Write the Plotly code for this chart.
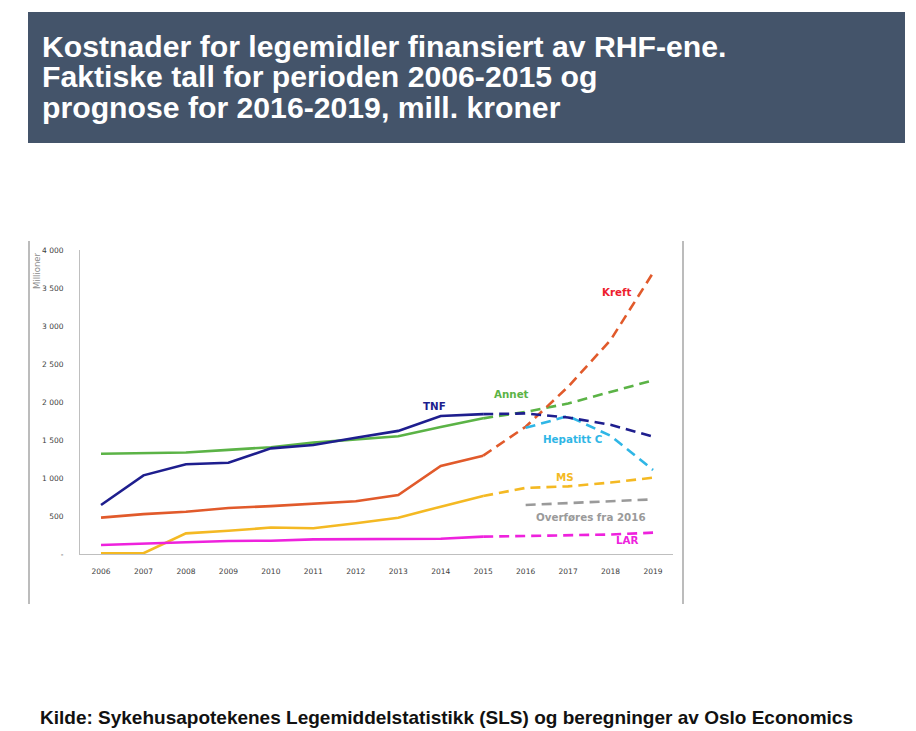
import plotly.graph_objects as go

years_hist = [2006, 2007, 2008, 2009, 2010, 2011, 2012, 2013, 2014, 2015]
years_prog = [2015, 2016, 2017, 2018, 2019]
years_new = [2016, 2017, 2018, 2019]

annet_hist = [1320, 1325, 1335, 1370, 1405, 1465, 1505, 1550, 1670, 1785]
annet_prog = [1785, 1870, 1980, 2135, 2285]

tnf_hist = [645, 1035, 1180, 1200, 1390, 1435, 1530, 1620, 1815, 1840]
tnf_prog = [1840, 1850, 1795, 1700, 1545]

kreft_hist = [478, 525, 555, 605, 630, 665, 695, 775, 1158, 1294]
kreft_prog = [1294, 1675, 2200, 2815, 3700]

hepc_prog = [1660, 1815, 1555, 1105]

ms_hist = [8, 10, 272, 305, 348, 338, 404, 478, 623, 763]
ms_prog = [763, 870, 890, 940, 1004]

overf_prog = [645, 667, 690, 719]

lar_hist = [118, 132, 154, 171, 175, 193, 197, 197, 200, 228]
lar_prog = [228, 238, 247, 256, 281]

x_ticks = list(range(2006, 2020))
y_ticks = [0, 500, 1000, 1500, 2000, 2500, 3000, 3500, 4000]
y_tick_text = ["-", "500", "1 000", "1 500", "2 000", "2 500", "3 000", "3 500", "4 000"]

C_ANNET = "#5BB346"
C_TNF = "#1E1E8E"
C_KREFT = "#E15A2B"
C_HEPC = "#2FB6E6"
C_MS = "#F4B923"
C_OVERF = "#9A9A9A"
C_LAR = "#EE22DD"

DASH = "10px,6px"
LW = 2.6

fig = go.Figure()

def add(x, y, color, dashed):
    fig.add_trace(go.Scatter(
        x=x, y=y, mode="lines",
        line=dict(color=color, width=LW, dash=DASH if dashed else "solid"),
        showlegend=False, hoverinfo="skip"))

add(years_hist, annet_hist, C_ANNET, False)
add(years_prog, annet_prog, C_ANNET, True)
add(years_hist, kreft_hist, C_KREFT, False)
add(years_prog, kreft_prog, C_KREFT, True)
add(years_new, hepc_prog, C_HEPC, True)
add(years_hist, tnf_hist, C_TNF, False)
add(years_prog, tnf_prog, C_TNF, True)
add(years_hist, ms_hist, C_MS, False)
add(years_prog, ms_prog, C_MS, True)
add(years_new, overf_prog, C_OVERF, True)
add(years_hist, lar_hist, C_LAR, False)
add(years_prog, lar_prog, C_LAR, True)

lab_font = "DejaVu Sans"
labels = [
    ("<b>Kreft</b>", 2018.16, 3451, "#EE1C2E"),
    ("<b>Annet</b>", 2015.66, 2101, C_ANNET),
    ("<b>TNF</b>", 2013.86, 1951, C_TNF),
    ("<b>Hepatitt C</b>", 2017.10, 1509, C_HEPC),
    ("<b>MS</b>", 2016.92, 1009, C_MS),
    ("<b>Overføres fra 2016</b>", 2017.53, 491, C_OVERF),
    ("<b>LAR</b>", 2018.41, 184, C_LAR),
]
for txt, x, y, col in labels:
    fig.add_annotation(x=x, y=y, xref="x", yref="y", text=txt, showarrow=False,
                       font=dict(family=lab_font, size=10.3, color=col),
                       xanchor="center", yanchor="middle")

W, H = 916, 731
OFF = 8  # page body margin
L, R, T, B = 80 - OFF, 673 - OFF, 250 - OFF, 554 - OFF

def px(xp):
    return (xp - OFF - L) / (R - L)

def py(yp):
    return (B - (yp - OFF)) / (B - T)

# Title banner
fig.add_shape(type="rect", xref="paper", yref="paper",
              x0=px(28), x1=px(905), y0=py(143), y1=py(12),
              fillcolor="#44546A", line=dict(width=0), layer="below")
title_lines = ["Kostnader for legemidler finansiert av RHF-ene.",
               "Faktiske tall for perioden 2006-2015 og",
               "prognose for 2016-2019, mill. kroner"]
for i, t in enumerate(title_lines):
    fig.add_annotation(x=px(40), y=py(46 + i * 30.5), xref="paper", yref="paper",
                       text="<b>" + t + "</b>", showarrow=False,
                       xanchor="left", yanchor="middle",
                       font=dict(family="Liberation Sans, Arial", size=30.2, color="white"))

# frame lines
fig.add_shape(type="line", xref="paper", yref="paper",
              x0=px(29), x1=px(29), y0=py(241), y1=py(604),
              line=dict(color="#A6A6A6", width=1.5))
fig.add_shape(type="line", xref="paper", yref="paper",
              x0=px(683), x1=px(683), y0=py(241), y1=py(604),
              line=dict(color="#A6A6A6", width=1.5))

# Millioner
fig.add_annotation(x=px(37), y=py(271), xref="paper", yref="paper",
                   text="Millioner", showarrow=False, textangle=-90,
                   xanchor="center", yanchor="middle",
                   font=dict(family="DejaVu Sans", size=8.5, color="#8C8C8C"))

# Source
fig.add_annotation(x=px(38), y=py(717), xref="paper", yref="paper",
                   text="<b>Kilde: Sykehusapotekenes Legemiddelstatistikk (SLS) og beregninger av Oslo Economics</b>",
                   showarrow=False, xanchor="left", yanchor="middle",
                   font=dict(family="Liberation Sans, Arial", size=19, color="#111111"))

fig.update_layout(
    width=W, height=H,
    margin=dict(l=L, r=W - R, t=T, b=H - B, pad=0),
    paper_bgcolor="white", plot_bgcolor="white",
    showlegend=False,
    xaxis=dict(range=[2005.505, 2019.47], tickvals=x_ticks, ticktext=[str(v) for v in x_ticks],
               showgrid=False, zeroline=False, showline=True, linecolor="#BFBFBF", linewidth=1,
               ticks="", ticklabelstandoff=10,
               tickfont=dict(family="DejaVu Sans", size=7.5, color="#404040")),
    yaxis=dict(range=[0, 4000], tickvals=y_ticks, ticktext=y_tick_text,
               showgrid=False, zeroline=False, showline=True, linecolor="#BFBFBF", linewidth=1,
               ticks="", ticklabelstandoff=14,
               tickfont=dict(family="DejaVu Sans", size=7.5, color="#404040")),
)

fig.write_html("out.html")
